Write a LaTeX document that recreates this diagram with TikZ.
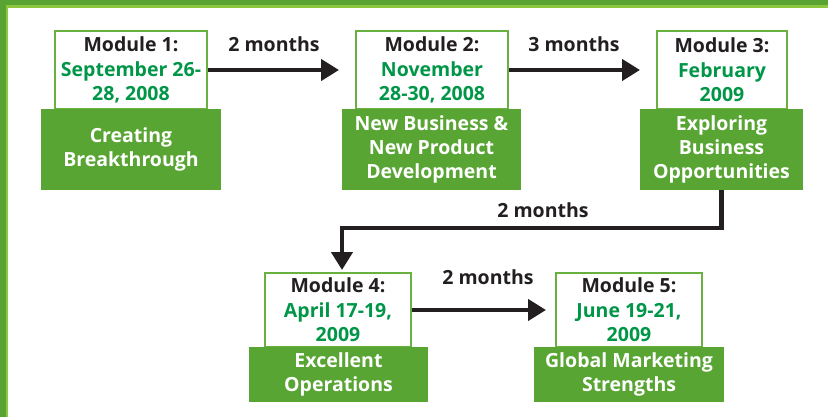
\documentclass[tikz,border=0pt]{standalone}
\usepackage{fontspec}
\setmainfont{Open Sans}
\usetikzlibrary{arrows.meta,calc}
\definecolor{dkgreen}{RGB}{88,163,50}
\definecolor{ltgreen}{RGB}{141,198,63}
\definecolor{boxgreen}{RGB}{89,165,52}
\definecolor{bordergreen}{RGB}{104,176,64}
\definecolor{dategreen}{RGB}{0,150,72}
\definecolor{txtblack}{RGB}{35,31,32}
\tikzset{
  wbox/.style={draw=bordergreen, line width=2pt, fill=white, inner sep=0pt, align=center, font=\fontsize{19.5}{24.5}\selectfont\bfseries, text=txtblack},
  gbox/.style={fill=boxgreen, draw=none, inner sep=0pt, align=center, font=\fontsize{19.5}{24}\selectfont\bfseries, text=white},
  conn/.style={draw=txtblack, line width=4.3pt, -{Triangle[length=18pt,width=21pt]}},
  lbl/.style={font=\fontsize{19.5}{22}\selectfont\bfseries, text=txtblack, inner sep=0pt},
}
\newcommand{\dt}[1]{\textcolor{dategreen}{#1}}
\begin{document}
\begin{tikzpicture}[x=1pt,y=-1pt]
\useasboundingbox (0,0) rectangle (828,417);
\fill[white] (0,0) rectangle (828,417);
% frame
\fill[dkgreen] (0,0) rectangle (828,5.5);
\fill[dkgreen] (0,0) rectangle (5.5,417);
\fill[ltgreen] (5.5,5.5) rectangle (828,8);
\fill[ltgreen] (5.5,5.5) rectangle (8,417);
% module 1
\node[wbox, minimum width=152, minimum height=78] (m1) at (131,70) {Module 1:\\\dt{September 26-}\\\dt{28, 2008}};
\node[gbox, minimum width=180, minimum height=81] (g1) at (131,149.5) {Creating\\Breakthrough};
% module 2
\node[wbox, minimum width=152, minimum height=78] (m2) at (432,70) {Module 2:\\\dt{November}\\\dt{28-30, 2008}};
\node[gbox, minimum width=179, minimum height=81] (g2) at (431.5,149.5) {New Business \&\\New Product\\Development};
% module 3
\node[wbox, minimum width=130, minimum height=78] (m3) at (722,70) {Module 3:\\\dt{February}\\\dt{2009}};
\node[gbox, minimum width=163, minimum height=81] (g3) at (721.5,149.5) {Exploring\\Business\\Opportunities};
% module 4
\node[wbox, minimum width=146, minimum height=74] (m4) at (338,310) {Module 4:\\\dt{April 17-19,}\\\dt{2009}};
\node[gbox, minimum width=179, minimum height=55] (g4) at (338.5,374.5) {Excellent\\Operations};
% module 5
\node[wbox, minimum width=146, minimum height=74] (m5) at (629,310) {Module 5:\\\dt{June 19-21,}\\\dt{2009}};
\node[gbox, minimum width=190, minimum height=55] (g5) at (629,374.5) {Global Marketing\\Strengths};
% connectors
\draw[conn, shorten >=16pt] (m1.east) -- (m2.west);
\draw[conn, shorten >=16pt] (m2.east) -- (m3.west);
\draw[conn, shorten >=2pt] (g3.south) -- ++(0,38) -| ([xshift=4pt]m4.north);
\draw[conn, shorten >=9pt] (m4.east) -- (m5.west);
% labels
\node[lbl] (l1) at (274,44) {2 months};
\node[lbl] (l2) at (574,44) {3 months};
\node[lbl] (l3) at (543,210) {2 months};
\node[lbl] (l4) at (488,277) {2 months};
\end{tikzpicture}
\end{document}
